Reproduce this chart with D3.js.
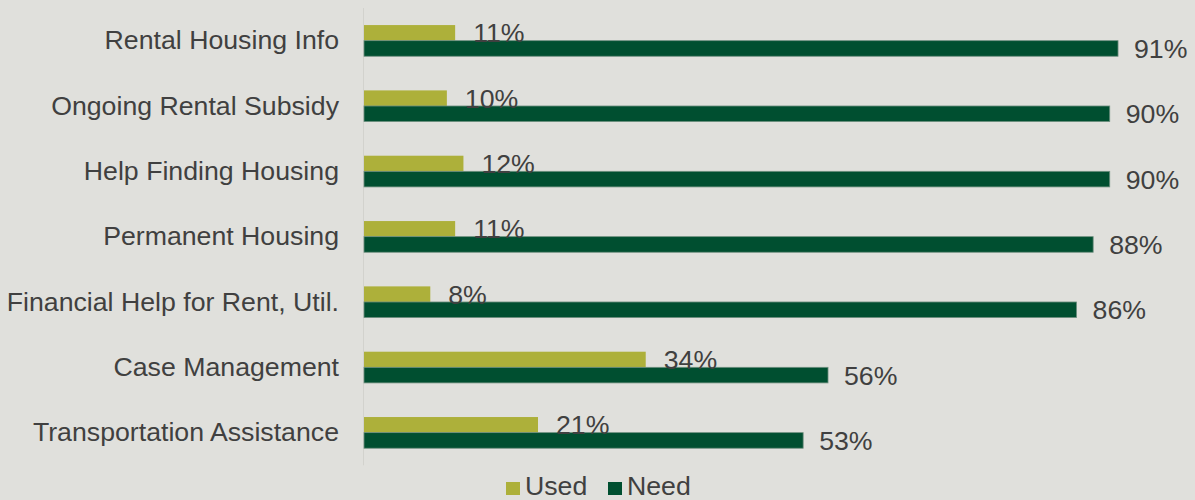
<!DOCTYPE html>
<html>
<head>
<meta charset="utf-8">
<script src="https://cdn.jsdelivr.net/npm/d3@7"></script>
<style>
  html, body { margin: 0; padding: 0; background: #e0e0dc; }
  svg { display: block; }
  text { font-family: "Liberation Sans", Arial, sans-serif; fill: #404040; }
</style>
</head>
<body>
<svg id="chart" width="1195" height="500"></svg>
<script>
const categories = [
  "Rental Housing Info",
  "Ongoing Rental Subsidy",
  "Help Finding Housing",
  "Permanent Housing",
  "Financial Help for Rent, Util.",
  "Case Management",
  "Transportation Assistance"
];
const usedValues = [11, 10, 12, 11, 8, 34, 21];
const needValues = [91, 90, 90, 88, 86, 56, 53];
const seriesNames = ["Used", "Need"];
const seriesColors = ["#adb03a", "#004f30"];

const FONT = "26.7px";
const svg = d3.select("#chart");
const W = 1195, H = 500;
svg.append("rect").attr("width", W).attr("height", H).attr("fill", "#e0e0dc");

const x = d3.scaleLinear().domain([0, 100]).range([364, 364 + 828.6]);
const y = d3.scaleBand().domain(categories).range([8, 465.3]);
const sub = d3.scaleBand().domain(seriesNames).range([0, y.bandwidth()]).paddingInner(0).paddingOuter(1.094);
const color = d3.scaleOrdinal().domain(seriesNames).range(seriesColors);

const rows = categories.map((c, i) => ({ cat: c, Used: usedValues[i], Need: needValues[i] }));

// vertical category axis line
svg.append("line")
  .attr("x1", 363.5).attr("x2", 363.5)
  .attr("y1", y.range()[0]).attr("y2", y.range()[1])
  .attr("stroke", "#d2d2cd").attr("stroke-width", 1);

// category labels
const yAxis = d3.axisLeft(y).tickSize(0).tickPadding(24);
const ya = svg.append("g").attr("transform", "translate(363,0)").call(yAxis);
ya.select(".domain").remove();
ya.selectAll("text")
  .style("font-size", FONT)
  .style("font-family", "'Liberation Sans', Arial, sans-serif")
  .attr("fill", "#404040");

const groups = svg.selectAll("g.grp").data(rows).join("g")
  .attr("class", "grp")
  .attr("transform", d => `translate(0,${y(d.cat)})`);

groups.selectAll("rect").data(d => seriesNames.map(s => ({ s, v: d[s] }))).join("rect")
  .attr("x", x(0))
  .attr("y", d => sub(d.s))
  .attr("width", d => x(d.v) - x(0))
  .attr("height", sub.bandwidth())
  .attr("fill", d => color(d.s))
  .attr("stroke", d => d.s === "Need" ? "#6f9080" : "none")
  .attr("stroke-width", 0.8);

groups.selectAll("text.val").data(d => seriesNames.map(s => ({ s, v: d[s] }))).join("text")
  .attr("class", "val")
  .attr("x", d => x(d.v) + (d.s === "Used" ? 18 : 16))
  .attr("y", d => sub(d.s) + sub.bandwidth() / 2)
  .attr("dy", "0.36em")
  .style("font-size", FONT)
  .text(d => d.v + "%");

// legend
const legend = svg.append("g").attr("transform", "translate(506,495)");
const legendPos = [0, 102];
seriesNames.forEach((s, i) => {
  const g = legend.append("g").attr("transform", `translate(${legendPos[i]},0)`);
  g.append("rect").attr("x", 0).attr("y", -13).attr("width", 14).attr("height", 13).attr("fill", color(s));
  g.append("text").attr("x", 19).attr("y", 0).style("font-size", FONT).text(s);
});
</script>
</body>
</html>
